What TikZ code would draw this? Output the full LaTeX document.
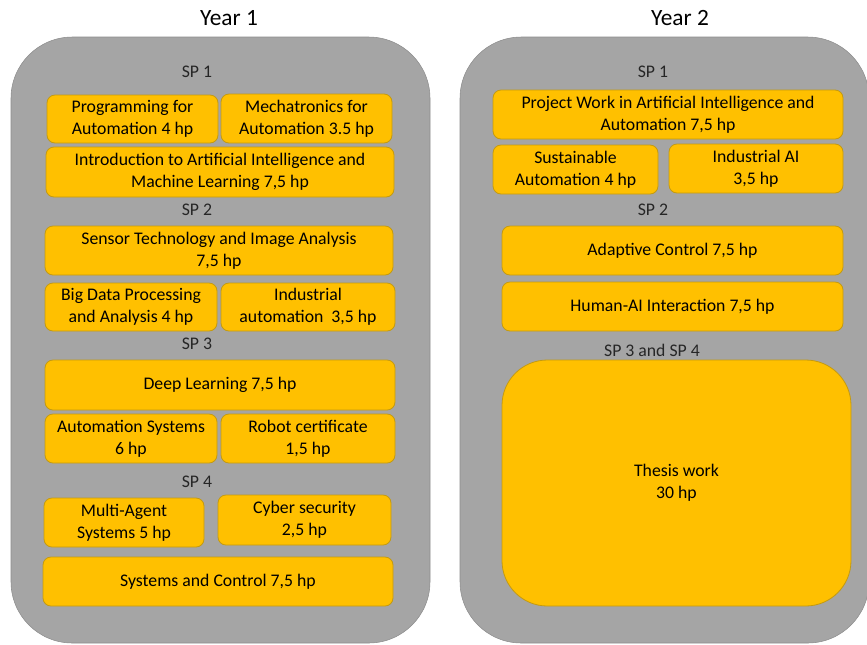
\documentclass[tikz,border=0pt]{standalone}
\usepackage{fontspec}
\setmainfont{Carlito}
\definecolor{panelgray}{HTML}{A5A5A5}
\definecolor{courseorange}{HTML}{FFC000}
\definecolor{courseedge}{HTML}{C49A10}

\begin{document}
\begin{tikzpicture}[x=0.75pt,y=-0.75pt]
            \tikzset{
                span/.style args={#1/#2}{minimum width=#1*0.75pt,minimum height=#2*0.75pt},
                yearpanel/.style={fill=panelgray,draw=panelgray!85!black,rounded corners=46pt,inner sep=0pt},
                course/.style={fill=courseorange,draw=courseedge,line width=0.6pt,rounded corners=6pt,inner sep=0pt,align=center,font=\fontsize{13.3}{16.5}\selectfont},
                period/.style={font=\fontsize{13.3}{16}\selectfont,text=black!85},
                yeartitle/.style={font=\fontsize{17.5}{20}\selectfont},}
            \useasboundingbox (0,0) rectangle (867,644);
            % panels
            \node[yearpanel, span=419/606] (year1) at (220.5,340) {};
            \node[yearpanel, span=409/606] (year2) at (664.5,340) {};
            \node[yeartitle] (title1) at (229,18) {Year 1};
            \node[yeartitle] (title2) at (680,18) {Year 2};
            % year 1
            \node[period] (y1sp1) at (197,72) {SP 1};
            \node[course, span=171/48] (prog) at (132.5,119) {Programming for\\Automation 4 hp};
            \node[course, span=171/49] (mech) at (306.5,118.5) {Mechatronics for\\Automation 3.5 hp};
            \node[course, span=348/50] (introai) at (220,172) {Introduction to Artificial Intelligence and\\Machine Learning 7,5 hp};
            \node[period] (y1sp2) at (197,210) {SP 2};
            \node[course, span=348/49] (sensor) at (219,250.5) {Sensor Technology and Image Analysis\\7,5 hp};
            \node[course, span=172/48] (bigdata) at (131,307) {Big Data Processing\\and Analysis 4 hp};
            \node[course, span=174/48] (indaut) at (308,307) {Industrial\\automation\ \ 3,5 hp};
            \node[period] (y1sp3) at (197,344) {SP 3};
            \node[course, span=350/50] (deep) at (220,385) {Deep Learning 7,5 hp};
            \node[course, span=172/49] (autsys) at (131,438.5) {Automation Systems\\6 hp};
            \node[course, span=174/49] (robot) at (308,438.5) {Robot certificate\\1,5 hp};
            \node[period] (y1sp4) at (197,482) {SP 4};
            \node[course, span=160/49] (multi) at (124,522.5) {Multi-Agent\\Systems 5 hp};
            \node[course, span=173/50] (cyber) at (304.5,520) {Cyber security\\2,5 hp};
            \node[course, span=350/49] (syscon) at (218,581.5) {Systems and Control 7,5 hp};
            % year 2
            \node[period] (y2sp1) at (653,72) {SP 1};
            \node[course, span=350/49] (project) at (668,114.5) {Project Work in Artificial Intelligence and\\Automation 7,5 hp};
            \node[course, span=165/49] (sustain) at (575.5,169.5) {Sustainable\\Automation 4 hp};
            \node[course, span=174/49] (indai) at (756,168.5) {Industrial AI\\3,5 hp};
            \node[period] (y2sp2) at (653,210) {SP 2};
            \node[course, span=341/49] (adaptive) at (672.5,250.5) {Adaptive Control 7,5 hp};
            \node[course, span=341/49] (humanai) at (672.5,306.5) {Human-AI Interaction 7,5 hp};
            \node[period] (y2sp34) at (652,350) {SP 3 and SP 4};
            \node[course, rounded corners=34pt, span=349/246] (thesis) at (676.5,483) {Thesis work\\30 hp};
        \end{tikzpicture}
\end{document}
